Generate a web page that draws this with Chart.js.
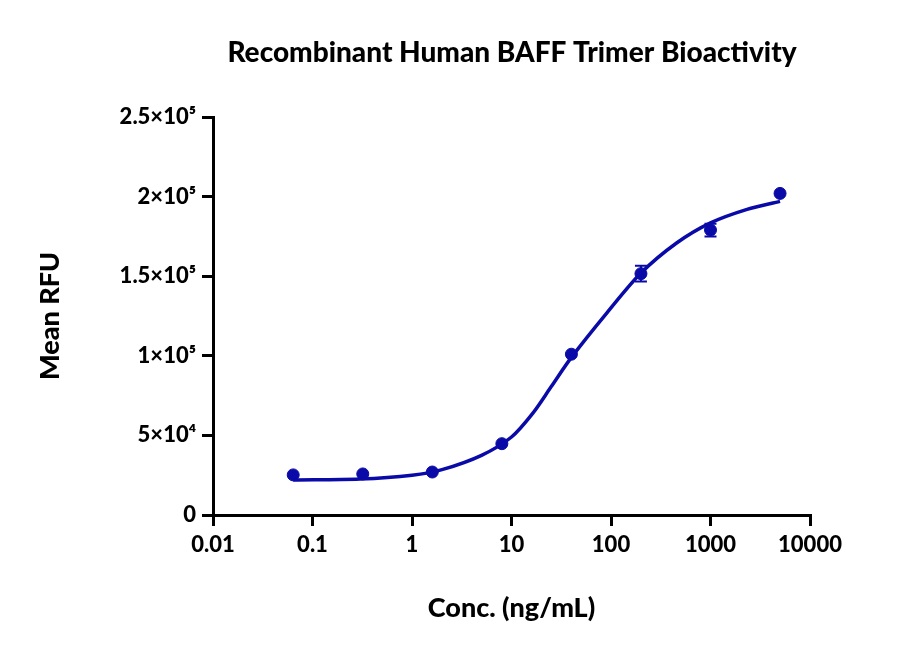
<!DOCTYPE html>
<html>
<head>
<meta charset="utf-8">
<script src="https://cdn.jsdelivr.net/npm/chart.js@4"></script>
<style>
  body { margin: 0; background: #fff; }
  #wrap { width: 900px; height: 658px; }
</style>
</head>
<body>
<div id="wrap"><canvas id="chart"></canvas></div>
<script>
const concs = [0.064, 0.32, 1.6, 8, 40, 200, 1000, 5000];
const meanRfu = [25200, 25800, 27000, 44800, 101000, 151600, 179000, 202000];
const errRfu = [0, 0, 0, 0, 0, 5000, 4000, 0];

const fitX = [0.064, 0.3, 1, 2, 5, 10, 16.4, 25, 40, 91, 200, 460, 1000, 2330, 5000];
const fitY = [22000, 22600, 25000, 28500, 37500, 49000, 64000, 80500, 99000, 127000, 152000, 171000, 183500, 192000, 197000];

const xTicks = [0.01, 0.1, 1, 10, 100, 1000, 10000];
const xLabels = ['0.01', '0.1', '1', '10', '100', '1000', '10000'];
const yTicks = [0, 50000, 100000, 150000, 200000, 250000];
const yLabels = ['0', '5×10⁴', '1×10⁵', '1.5×10⁵', '2×10⁵', '2.5×10⁵'];

const blue = '#0a0aa8';
const font = 'Lato, "Noto Sans", sans-serif';

const errorBars = {
  id: 'errorBars',
  afterDatasetsDraw(chart) {
    const { ctx, scales: { x, y } } = chart;
    ctx.save();
    ctx.strokeStyle = blue;
    ctx.lineWidth = 2;
    concs.forEach((c, i) => {
      if (!errRfu[i]) return;
      const px = x.getPixelForValue(c);
      const top = y.getPixelForValue(meanRfu[i] + errRfu[i]);
      const bot = y.getPixelForValue(meanRfu[i] - errRfu[i]);
      ctx.beginPath();
      ctx.moveTo(px, top); ctx.lineTo(px, bot);
      ctx.moveTo(px - 6, top); ctx.lineTo(px + 6, top);
      ctx.moveTo(px - 6, bot); ctx.lineTo(px + 6, bot);
      ctx.stroke();
    });
    ctx.restore();
  }
};

const titlePlugin = {
  id: 'titleText',
  afterDraw(chart) {
    const ctx = chart.ctx;
    ctx.save();
    ctx.fillStyle = '#000';
    ctx.font = '900 28px ' + font;
    ctx.textAlign = 'center';
    ctx.textBaseline = 'middle';
    ctx.fillText('Recombinant Human BAFF Trimer Bioactivity', 512, 53);
    ctx.restore();
  }
};

new Chart(document.getElementById('chart'), {
  type: 'scatter',
  data: {
    datasets: [{
      label: 'Fit',
      type: 'line',
      data: fitX.map((v, i) => ({ x: v, y: fitY[i] })),
      borderColor: blue,
      borderWidth: 3.5,
      pointRadius: 0,
      tension: 0.3,
      fill: false
    }, {
      label: 'Mean RFU',
      data: concs.map((v, i) => ({ x: v, y: meanRfu[i] })),
      backgroundColor: blue,
      borderColor: blue,
      pointRadius: 6,
      pointHoverRadius: 6
    }]
  },
  options: {
    responsive: true,
    maintainAspectRatio: false,
    animation: false,
    layout: { padding: { top: 117, right: 90, left: 30, bottom: 30 } },
    plugins: { legend: { display: false }, tooltip: { enabled: false } },
    scales: {
      x: {
        type: 'logarithmic',
        min: 0.01,
        max: 10000,
        afterBuildTicks: s => { s.ticks = xTicks.map(v => ({ value: v })); },
        afterFit: s => { s.height = 113; },
        ticks: {
          color: '#000',
          font: { family: font, size: 22, weight: '900' },
          padding: 6,
          maxRotation: 0,
          callback: (v) => xLabels[xTicks.indexOf(v)]
        },
        grid: { drawOnChartArea: false, drawTicks: true, tickLength: 11, color: '#000', lineWidth: 3 },
        border: { color: '#000', width: 3 },
        title: {
          display: true, text: 'Conc. (ng/mL)', color: '#000',
          font: { family: font, size: 27, weight: '900' }, padding: { top: 14 }
        }
      },
      y: {
        min: 0,
        max: 250000,
        afterBuildTicks: s => { s.ticks = yTicks.map(v => ({ value: v })); },
        afterFit: s => { s.width = 183; },
        ticks: {
          color: '#000',
          font: { family: font, size: 22, weight: '900' },
          padding: 6,
          callback: (v) => yLabels[yTicks.indexOf(v)]
        },
        grid: { drawOnChartArea: false, drawTicks: true, tickLength: 11, color: '#000', lineWidth: 3 },
        border: { color: '#000', width: 3 },
        title: {
          display: true, text: 'Mean RFU', color: '#000',
          font: { family: font, size: 27, weight: '900' }, padding: { bottom: 8 }
        }
      }
    }
  },
  plugins: [errorBars, titlePlugin]
});
</script>
</body>
</html>
